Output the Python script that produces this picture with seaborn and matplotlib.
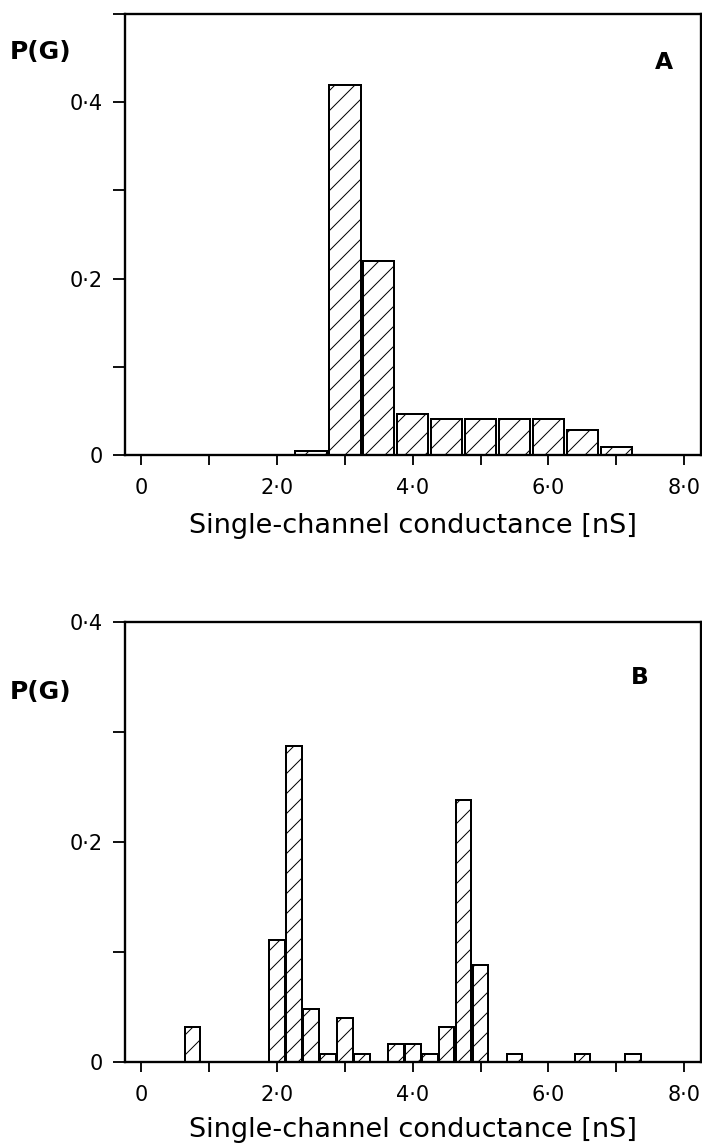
import numpy as np
import pandas as pd
import matplotlib
matplotlib.use("Agg")
import matplotlib.pyplot as plt
import seaborn as sns

# ---- data ----
a_centers = [2.5, 3.0, 3.5, 4.0, 4.5, 5.0, 5.5, 6.0, 6.5, 7.0]
a_prob = [0.005, 0.420, 0.220, 0.047, 0.041, 0.041, 0.041, 0.041, 0.028, 0.009]

b_centers = [0.75, 2.0, 2.25, 2.5, 2.75, 3.0, 3.25, 3.75, 4.0, 4.25,
             4.5, 4.75, 5.0, 5.5, 6.5, 7.25]
b_prob = [0.032, 0.111, 0.287, 0.048, 0.007, 0.040, 0.007, 0.016, 0.016, 0.007,
          0.032, 0.238, 0.088, 0.007, 0.007, 0.007]

x_ticks = [0, 1, 2, 3, 4, 5, 6, 7, 8]
x_ticklabels = ["0", "", "2·0", "", "4·0", "", "6·0", "", "8·0"]
ya_ticks = [0, 0.1, 0.2, 0.3, 0.4, 0.5]
ya_ticklabels = ["0", "", "0·2", "", "0·4", ""]
yb_ticks = [0, 0.1, 0.2, 0.3, 0.4]
yb_ticklabels = ["0", "", "0·2", "", "0·4"]
xlabel = "Single-channel conductance [nS]"
ylabel = "P(G)"

sns.set_theme(style="ticks")
plt.rcParams["font.family"] = ["DejaVu Sans"]
plt.rcParams["hatch.linewidth"] = 0.6
plt.rcParams["axes.linewidth"] = 1.4
for k in ["text.color", "axes.labelcolor", "xtick.color", "ytick.color",
          "axes.edgecolor"]:
    plt.rcParams[k] = "black"

W, H = 702, 1146
DPI = 120
fig = plt.figure(figsize=(W / DPI, H / DPI), dpi=DPI)
fig.patch.set_facecolor("white")

axA = fig.add_axes([125 / W, 1 - 455 / H, 576 / W, 441 / H])
axB = fig.add_axes([125 / W, 1 - 1062 / H, 576 / W, 440 / H])

dfA = pd.DataFrame({"G": a_centers, "P": a_prob})
dfB = pd.DataFrame({"G": b_centers, "P": b_prob})

for ax, df, yt, ytl, ytop, lab, lx, ly, xl_off in [
    (axA, dfA, ya_ticks, ya_ticklabels, 0.5, "A", 7.71, 0.445, 71 / 441),
    (axB, dfB, yb_ticks, yb_ticklabels, 0.4, "B", 7.34, 0.35, 68 / 440),
]:
    sns.barplot(data=df, x="G", y="P", native_scale=True, width=0.92,
                color="white", saturation=1, edgecolor="black", linewidth=1.2,
                hatch="//", errorbar=None, ax=ax)
    ax.set_facecolor("white")
    ax.set_xlim(-0.243, 8.25)
    ax.set_ylim(0, ytop)
    ax.set_xticks(x_ticks)
    ax.set_xticklabels(x_ticklabels)
    ax.set_yticks(yt)
    ax.set_yticklabels(ytl)
    for s in ax.spines.values():
        s.set_visible(True)
        s.set_color("black")
        s.set_linewidth(1.4)
    ax.tick_params(axis="x", direction="out", length=6, width=1.1,
                   pad=8, labelsize=12.5, colors="black")
    ax.tick_params(axis="y", direction="out", length=7, width=1.1,
                   pad=6.5, labelsize=12.5, colors="black")
    ax.set_ylabel("")
    ax.set_xlabel(xlabel, fontsize=16.3, color="black")
    ax.xaxis.label.set_va("center")
    ax.xaxis.set_label_coords(0.5, -xl_off)
    ax.text(lx, ly, lab, ha="center", va="center", fontsize=14,
            fontweight="bold", color="black")
    ax.grid(False)

fig.text(10 / W, 1 - 52 / H, ylabel, ha="left", va="center", fontsize=15,
         fontweight="bold", color="black")
fig.text(10 / W, 1 - 692 / H, ylabel, ha="left", va="center", fontsize=15,
         fontweight="bold", color="black")

fig.savefig("out.png", dpi=DPI, facecolor="white")
